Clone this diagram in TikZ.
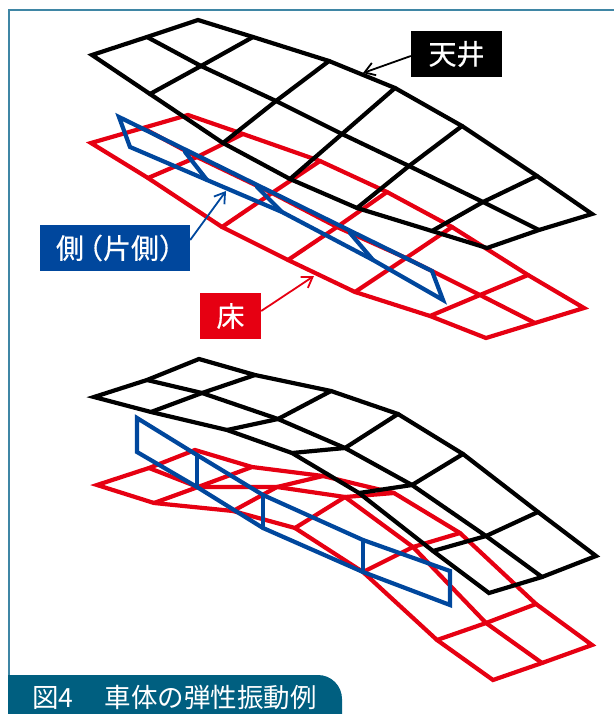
\documentclass[tikz,border=0pt]{standalone}
\usepackage{fontspec}
\setmainfont{Noto Sans CJK JP}
\newfontfamily\tagfont[FakeBold=0.4]{Noto Sans CJK JP}
\usetikzlibrary{arrows.meta}
\definecolor{fr}{HTML}{3F86A5}
\definecolor{bar}{HTML}{005F80}
\definecolor{rd}{HTML}{E60012}
\definecolor{bl}{HTML}{00479D}
\tikzset{
 gridline/.style={line width=4.2pt,line join=miter,line cap=round},
 blk/.style={gridline,black},
 redl/.style={gridline,rd},
 blul/.style={gridline,bl},
 tag/.style={inner sep=0pt,minimum height=46pt,text=white,font=\tagfont\fontsize{28}{28}\selectfont,anchor=center},
 lead/.style={line width=1.8pt,-{Straight Barb[length=10pt,width=13pt,line width=1.8pt]}},
}
\begin{document}
\begin{tikzpicture}[x=1pt,y=-1pt]
\useasboundingbox (0,0) rectangle (614,714);
% frame
\draw[fr,line width=1.4pt] (9,714) -- (9,10) -- (614,10);
\fill[bar] (8,714) -- (8,675) [rounded corners=24pt] -- (342,675) [sharp corners] -- (342,714) -- cycle;
\node[text=white,anchor=west,inner sep=0pt,font=\fontsize{26.5}{26.5}\selectfont] (cap) at (32,697) {図4\hspace{5pt}　車体の弾性振動例};

% upper red
\draw[redl] (91,143) -- (188,115) -- (243,134) -- (320,161) -- (387,192) -- (452,227) -- (528,275) -- (584,308) -- (535,323) -- (486,338) -- (430,316) -- (355,292) -- (288,260) -- (222,227) -- (148,178) -- cycle;
\draw[redl] (143,128) -- (197,157) -- (272,193) -- (337,227) -- (406,258) -- (480,295) -- (535,323);
\draw[redl] (243,134) -- (197,157) -- (148,178);
\draw[redl] (320,161) -- (272,193) -- (222,227);
\draw[redl] (387,192) -- (337,227) -- (288,260);
\draw[redl] (452,227) -- (406,258) -- (355,292);
\draw[redl] (528,275) -- (480,295) -- (430,316);
% upper blue
\draw[blul] (119,117) -- (432,271) -- (443,300) -- (373,260) -- (282,212) -- (207,180) -- (130,147) -- cycle;
\draw[blul] (207,180) -- (185,152);
\draw[blul] (282,212) -- (257,187);
\draw[blul] (373,260) -- (350,233);
% upper black
\draw[blk] (92,55) -- (147,37) -- (198,20) -- (253,37) -- (329,61) -- (395,88) -- (462,126) -- (537,176) -- (592,214) -- (539,230) -- (487,248) -- (432,231) -- (357,208) -- (290,179) -- (223,143) -- (150,94) -- cycle;
\draw[blk] (147,37) -- (201,66) -- (276,101) -- (342,134) -- (409,166) -- (483,202) -- (539,230);
\draw[blk] (253,37) -- (201,66) -- (150,94);
\draw[blk] (329,61) -- (276,101) -- (223,143);
\draw[blk] (395,88) -- (342,134) -- (290,179);
\draw[blk] (462,126) -- (409,166) -- (357,208);
\draw[blk] (537,176) -- (483,202) -- (432,231);

% lower red
\draw[redl] (97,485) -- (149,468) -- (195,450) -- (252,467) -- (323,476) -- (394,493) -- (460,533) -- (536,604) -- (592,645) -- (542,663) -- (493,680) -- (437,640) -- (363,572) -- (295,528) -- (233,511) -- (154,503) -- cycle;
\draw[redl] (149,468) -- (198,487) -- (277,487) -- (345,497) -- (413,547) -- (486,623) -- (542,663);
\draw[redl] (252,467) -- (198,487) -- (154,503);
\draw[redl] (323,476) -- (277,487) -- (233,511);
\draw[redl] (394,493) -- (345,497) -- (295,528);
\draw[redl] (460,533) -- (413,547) -- (363,572);
\draw[redl] (536,604) -- (486,623) -- (437,640);
% lower blue
\draw[blul] (137,418) -- (197,455) -- (263,495) -- (363,540) -- (450,571) -- (450,605) -- (363,572) -- (263,528) -- (197,487) -- (137,452) -- cycle;
\draw[blul] (197,455) -- (197,487);
\draw[blul] (263,495) -- (263,528);
\draw[blul] (363,540) -- (363,572);
% lower black
\draw[blk] (94,397) -- (147,380) -- (199,359) -- (255,375) -- (331,391) -- (398,414) -- (463,454) -- (538,512) -- (596,556) -- (542,577) -- (489,593) -- (433,551) -- (359,493) -- (292,453) -- (227,430) -- (151,412) -- cycle;
\draw[blk] (147,380) -- (202,393) -- (278,419) -- (345,448) -- (412,485) -- (486,536) -- (542,577);
\draw[blk] (255,375) -- (202,393) -- (151,412);
\draw[blk] (331,391) -- (278,419) -- (227,430);
\draw[blk] (398,414) -- (345,448) -- (292,453);
\draw[blk] (463,454) -- (412,485) -- (359,493);
\draw[blk] (538,512) -- (486,536) -- (433,551);

% labels
\node[tag,fill=black,minimum width=91pt] (ceil) at (456.5,54) {天井};
\node[tag,fill=bl,minimum width=150pt] (side) at (115,248) {\hspace*{13pt}側\hspace{-9pt}（片側）};
\node[tag,fill=rd,minimum width=61pt] (floor) at (230.5,316) {床};
\coordinate (ceilp) at (363,73);
\coordinate (sidep) at (226,191);
\coordinate (floorp) at (314,276);
\draw[lead,black] (ceil.west) ++(0,2) -- (ceilp);
\draw[lead,bl] (side.east) ++(0,-8) -- (sidep);
\draw[lead,rd] (floor.east) ++(0,-5) -- (floorp);
\end{tikzpicture}
\end{document}
